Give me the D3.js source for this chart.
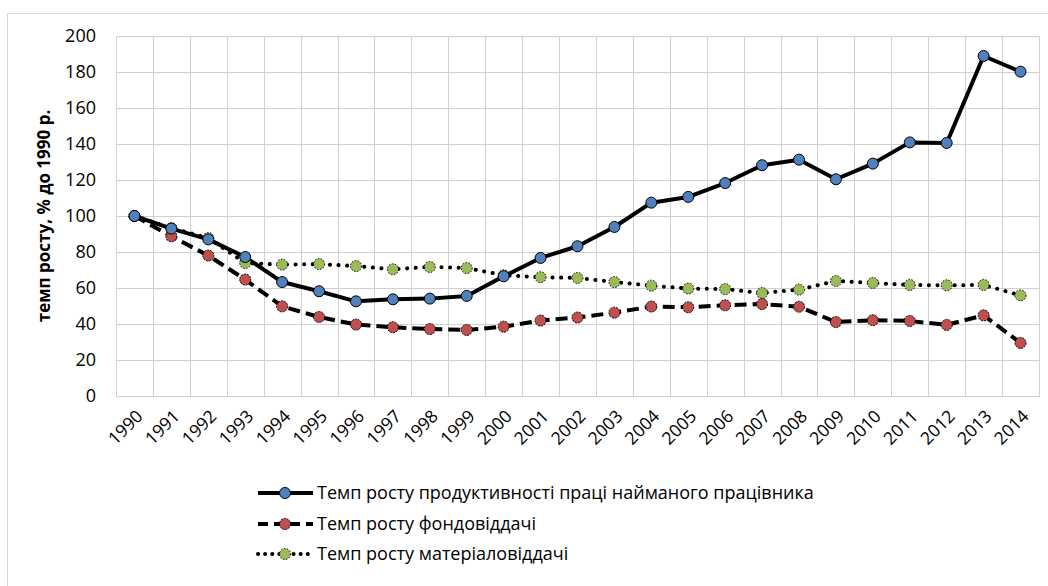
<!DOCTYPE html>
<html>
<head>
<meta charset="utf-8">
<script src="https://cdn.jsdelivr.net/npm/d3@7"></script>
<style>
  body { margin: 0; background: #fff; }
  text { font-family: "Open Sans", "Noto Sans", sans-serif; fill: #000; }
</style>
</head>
<body>
<div id="chart"></div>
<script>
// роки
const years = ["1990", "1991", "1992", "1993", "1994", "1995", "1996", "1997", "1998", "1999", "2000", "2001", "2002",
    "2003", "2004", "2005", "2006", "2007", "2008", "2009", "2010", "2011", "2012", "2013", "2014"];

// Темп росту продуктивності праці найманого працівника
const productivity = [100, 93, 87, 77.2, 63.3, 58.2, 52.6, 53.7, 54.1, 55.6, 66.5, 76.7, 83.2,
    93.9, 107.4, 110.6, 118.3, 128.2, 131.3, 120.4, 129.1, 140.9, 140.6, 188.9, 180.2];

// Темп росту фондовіддачі
const fondo = [100, 88.7, 78, 64.7, 49.8, 43.9, 39.7, 38.2, 37.2, 36.7, 38.5, 41.9, 43.6,
    46.3, 49.7, 49.3, 50.4, 51.1, 49.6, 41.1, 42.1, 41.7, 39.5, 44.8, 29.5];

// Темп росту матеріаловіддачі
const materialo = [100, 93.3, 87.8, 73.9, 73, 73.3, 72.2, 70.4, 71.7, 71.1, 67.1, 66, 65.6,
    63.3, 61.3, 59.7, 59.4, 57.2, 59.1, 63.9, 62.8, 61.7, 61.5, 61.7, 55.9];

const yTicks = [0, 20, 40, 60, 80, 100, 120, 140, 160, 180, 200];

const seriesNames = ["Темп росту продуктивності праці найманого працівника",
    "Темп росту фондовіддачі",
    "Темп росту матеріаловіддачі"];

const W = 1048, H = 586;
const margin = { top: 36, right: 9, bottom: 190, left: 116 };
const width = W - margin.left - margin.right;
const height = H - margin.top - margin.bottom;

const svgRoot = d3.select("#chart").append("svg")
    .attr("width", W)
    .attr("height", H);

const x = d3.scaleBand()
    .domain(years)
    .range([0, width]);

const y = d3.scaleLinear()
    .domain([0, 200])
    .range([height, 0]);

// рамка діаграми
svgRoot.append("rect")
    .attr("x", 7.5).attr("y", 13.5)
    .attr("width", W).attr("height", H)
    .attr("fill", "none")
    .attr("stroke", "#d9d9d9");

// сітка — один path
const gridColor = "#d0d0d0";
const gridPath = d3.path();
yTicks.forEach(t => {
    const yy = margin.top + Math.round(y(t)) + 0.5;
    gridPath.moveTo(margin.left, yy);
    gridPath.lineTo(margin.left + width + 1, yy);
});
years.map(d => x(d)).concat([width]).forEach(v => {
    const xx = margin.left + Math.round(v) + 0.5;
    gridPath.moveTo(xx, margin.top);
    gridPath.lineTo(xx, margin.top + height + 1);
});
svgRoot.append("path")
    .attr("d", gridPath.toString())
    .attr("fill", "none")
    .attr("stroke", gridColor)
    .attr("stroke-width", 1);

const svg = svgRoot.append("g")
    .attr("transform", `translate(${margin.left},${margin.top})`);

// Y вісь
const yAxis = svg.append("g")
    .call(d3.axisLeft(y).tickValues(yTicks).tickSize(0).tickPadding(20));
yAxis.select(".domain").remove();
yAxis.selectAll("text")
    .style("font-family", "'Open Sans', sans-serif")
    .style("font-size", "18px")
    .attr("fill", "#000");

// X вісь
const xAxis = svg.append("g")
    .attr("transform", `translate(0,${height})`)
    .call(d3.axisBottom(x).tickSize(0).tickPadding(0));
xAxis.select(".domain").remove();
xAxis.selectAll("text")
    .style("font-family", "'Open Sans', sans-serif")
    .style("font-size", "17.5px")
    .attr("fill", "#000")
    .attr("text-anchor", "end")
    .attr("dy", "0.35em")
    .attr("transform", "translate(5,17) rotate(-45)");

// назва осі Y
svgRoot.append("text")
    .attr("transform", "translate(50,216) rotate(-90)")
    .attr("text-anchor", "middle")
    .attr("font-weight", "bold")
    .attr("font-size", 17)
    .text("темп росту, % до 1990 р.");

const styles = [
    { data: productivity, fill: "#4f81bd", dash: null, mdash: null },
    { data: fondo, fill: "#c0504d", dash: "12,6", mdash: "2,1" },
    { data: materialo, fill: "#9bbb59", dash: "0.1,8.5", mdash: "1.5,1.5" }
];

const line = d3.line()
    .x((d, i) => x(years[i]) + x.bandwidth() / 2)
    .y(d => y(d));

// лінії: зелена, червона, синя
[2, 1, 0].forEach(k => {
    const s = styles[k];
    svg.append("path")
        .datum(s.data)
        .attr("d", line)
        .attr("fill", "none")
        .attr("stroke", "#000")
        .attr("stroke-width", 4)
        .attr("stroke-linecap", k === 2 ? "round" : "butt")
        .attr("stroke-linejoin", "round")
        .attr("stroke-dasharray", s.dash);
});

// маркери
[2, 1, 0].forEach(k => {
    const s = styles[k];
    svg.append("g")
        .selectAll("circle")
        .data(s.data)
        .enter().append("circle")
        .attr("cx", (d, i) => x(years[i]) + x.bandwidth() / 2)
        .attr("cy", d => y(d))
        .attr("r", 5.5)
        .attr("fill", s.fill)
        .attr("stroke", "#000")
        .attr("stroke-width", 1)
        .attr("stroke-dasharray", s.mdash);
});

// легенда
const legendRows = [493, 524, 554];
const legend = svgRoot.append("g");
styles.forEach((s, k) => {
    const yy = legendRows[k];
    legend.append("line")
        .attr("x1", 258).attr("x2", 313)
        .attr("y1", yy).attr("y2", yy)
        .attr("stroke", "#000")
        .attr("stroke-width", 4)
        .attr("stroke-linecap", k === 2 ? "round" : "butt")
        .attr("stroke-dasharray", k === 1 ? "10,6" : (k === 2 ? "0.1,7" : null));
    legend.append("circle")
        .attr("cx", 285).attr("cy", yy)
        .attr("r", 5.5)
        .attr("fill", s.fill)
        .attr("stroke", "#000")
        .attr("stroke-width", 1)
        .attr("stroke-dasharray", s.mdash);
    legend.append("text")
        .attr("x", 317)
        .attr("y", yy)
        .attr("dy", "0.35em")
        .attr("font-size", 18)
        .text(seriesNames[k]);
});
</script>
</body>
</html>
